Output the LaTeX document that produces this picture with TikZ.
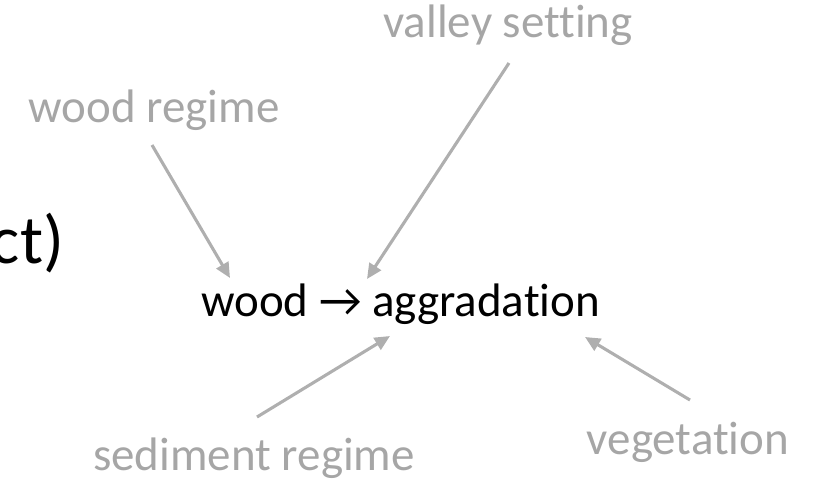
\documentclass[tikz,border=0pt]{standalone}
\usepackage{fontspec}
\setmainfont{Carlito}[Ligatures=NoCommon]
\usetikzlibrary{arrows.meta}
\definecolor{factorgray}{RGB}{166,166,166}
\definecolor{arrowgray}{RGB}{175,175,175}

\begin{document}
\begin{tikzpicture}[
  x=0.025cm, y=-0.025cm,
  every node/.style={inner sep=0pt, outer sep=0pt, anchor=base},
  factor/.style={text=factorgray, font=\fontsize{33.4}{40}\selectfont},
  effect/.style={text=black, font=\fontsize{33.4}{40}\selectfont},
  arr/.style={-{Triangle[length=0.38cm,width=0.34cm]}, line width=2.2pt, color=arrowgray}
]
  \useasboundingbox (0,0) rectangle (818,482);

  \node[factor] (valley)   at (508,37)  {valley setting};
  \node[factor] (wregime)  at (154,122) {wood regime};
  \node[effect, anchor=base east, font=\fontsize{49}{58}\selectfont] (cut) at (64,263) {ct)};
  \node[effect, anchor=base east] (target) at (600,316) {wood → aggradation};
  \node[factor] (sediment) at (254,470) {sediment regime};
  \node[factor] (veg)      at (688,454) {vegetation};

  % arrow ends
  \coordinate (wregime-out)  at (152,145);
  \coordinate (wregime-in)   at (230,278);
  \coordinate (valley-out)   at (509,63);
  \coordinate (valley-in)    at (367,279);
  \coordinate (sediment-out) at (257,417);
  \coordinate (sediment-in)  at (390,336);
  \coordinate (veg-out)      at (690,400);
  \coordinate (veg-in)       at (585,337);

  \draw[arr] (wregime-out) -- (wregime-in);
  \draw[arr] (valley-out) -- (valley-in);
  \draw[arr] (sediment-out) -- (sediment-in);
  \draw[arr] (veg-out) -- (veg-in);
\end{tikzpicture}
\end{document}
